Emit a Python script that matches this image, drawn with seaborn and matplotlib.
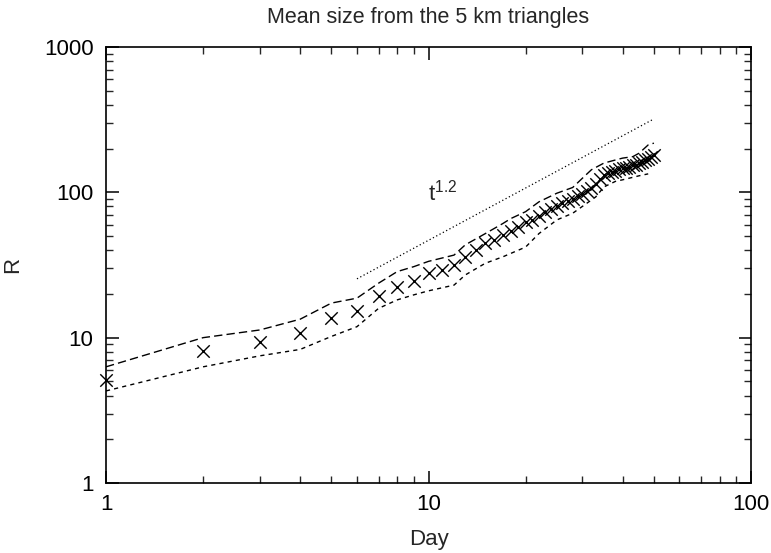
import numpy as np
import pandas as pd
import matplotlib
matplotlib.use("Agg")
import matplotlib.pyplot as plt
import seaborn as sns

# ---- data ----
days = list(range(1, 51))
mean_r = [5.1, 8.1, 9.3, 10.7, 13.7, 15.3, 19.4, 22.4, 24.7, 28.0,
          29.2, 31.6, 36.0, 40.0, 44.5, 47.0, 51.0, 54.0, 58.0, 62.5,
          65.0, 69.0, 73.0, 76.5, 80.0, 84.0, 87.0, 90.0, 94.0, 98.0,
          102.0, 107.0, 114.0, 123.0, 131.0, 136.0, 139.0, 141.0, 144.0, 146.5,
          148.0, 150.0, 153.0, 155.0, 158.0, 162.0, 166.0, 170.0, 175.0, 180.0]

band_days = [1, 2, 3, 4, 5, 6, 7, 8, 9, 10, 12, 13, 15, 17, 18, 20, 22, 25,
             28, 30, 32, 35, 38, 40, 43, 45, 48, 50]
upper_r = [6.3, 10.0, 11.3, 13.4, 17.3, 18.7, 23.7, 28.5, 30.8, 33.5, 37.0,
           43.5, 52.0, 61.0, 66.0, 73.6, 86.0, 98.6, 108.0, 125.0, 143.0,
           159.0, 167.0, 172.0, 176.0, 186.0, 212.0, 218.0]
lower_days = [1, 2, 3, 4, 5, 6, 7, 8, 9, 10, 12, 13, 15, 17, 20, 22, 25, 28,
              30, 33, 35, 38, 40, 45, 48]
lower_r = [4.3, 6.3, 7.5, 8.3, 10.2, 11.9, 15.9, 18.2, 19.7, 21.0, 23.0, 27.0,
           32.5, 36.0, 42.0, 52.0, 64.6, 71.8, 80.0, 93.0, 109.0, 119.0, 122.0,
           130.0, 134.0]

ref_days = [6, 50]
ref_r = [25.4, 320.0]
ref_label_pos = (9.95, 100.0)

x_ticks = [1, 10, 100]
x_tick_labels = ["1", "10", "100"]
y_ticks = [1, 10, 100, 1000]
y_tick_labels = ["1", "10", "100", "1000"]

# ---- plotting ----
sns.set_theme(style="ticks")
plt.rcParams["font.family"] = ["Liberation Sans", "DejaVu Sans"]
plt.rcParams["mathtext.fontset"] = "custom"
plt.rcParams["mathtext.rm"] = "Liberation Sans"
plt.rcParams["mathtext.it"] = "Liberation Sans"

fig = plt.figure(figsize=(7.71, 5.53), dpi=100)
ax = fig.add_axes([106 / 771, 1 - 483 / 553, (751 - 106) / 771, (483 - 47) / 553])

df_mean = pd.DataFrame({"day": days, "r": mean_r})
df_up = pd.DataFrame({"day": band_days, "r": upper_r})
df_lo = pd.DataFrame({"day": lower_days, "r": lower_r})
df_ref = pd.DataFrame({"day": ref_days, "r": ref_r})

sns.lineplot(data=df_up, x="day", y="r", ax=ax, color="black", lw=1.0,
             linestyle=(0, (6, 3)), sort=True)
sns.lineplot(data=df_lo, x="day", y="r", ax=ax, color="black", lw=1.0,
             linestyle=(0, (3, 3)), sort=True)
sns.lineplot(data=df_ref, x="day", y="r", ax=ax, color="black", lw=0.9,
             linestyle=(0, (1, 2)))
sns.scatterplot(data=df_mean, x="day", y="r", ax=ax, marker="x", color="black",
                s=80, linewidth=1.0, zorder=5, clip_on=False)

ax.set_xscale("log")
ax.set_yscale("log")
ax.set_xlim(1, 100)
ax.set_ylim(1, 1000)
ax.set_xticks(x_ticks)
ax.set_xticklabels(x_tick_labels)
ax.set_yticks(y_ticks)
ax.set_yticklabels(y_tick_labels)

for s in ax.spines.values():
    s.set_visible(True)
    s.set_linewidth(1.2)
    s.set_color("black")

ax.tick_params(which="major", direction="in", length=9, width=1.1,
               top=True, right=True, labelsize=16, colors="black", pad=8)
ax.tick_params(which="minor", direction="in", length=5, width=1.0,
               top=True, right=True)
ax.tick_params(axis="y", which="major", pad=9)

ax.set_xlabel("Day", fontsize=16, labelpad=10)
ax.set_ylabel("R", fontsize=16)
ax.yaxis.set_label_coords(-0.128, 0.5)
ax.set_title("Mean size from the 5 km triangles", fontsize=15.5, pad=17)

ax.text(ref_label_pos[0], ref_label_pos[1], r"t$^{1.2}$", fontsize=16,
        ha="left", va="center")

fig.savefig("out.png", dpi=100)
